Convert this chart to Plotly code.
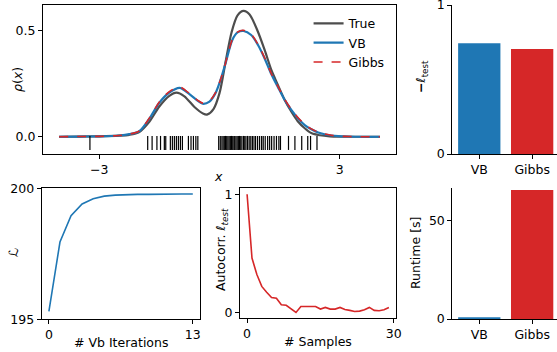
import plotly.graph_objects as go

# ---------------- data ----------------
true_x = [-4.0, -3.5, -3.0, -2.5, -2.25, -2.0, -1.75, -1.5, -1.25, -1.075, -0.875, -0.625,
          -0.4, -0.3, -0.15, 0.0, 0.15, 0.3, 0.45, 0.6, 0.75, 0.95, 1.125, 1.3, 1.45,
          1.625, 1.8, 1.95, 2.125, 2.3, 2.5, 2.75, 3.0, 3.5, 4.0]
true_y = [0.0, 0.001, 0.002, 0.005, 0.009, 0.022, 0.07, 0.142, 0.192, 0.207, 0.19, 0.14,
          0.108, 0.105, 0.13, 0.205, 0.35, 0.49, 0.57, 0.591, 0.574, 0.497, 0.408, 0.31, 0.246,
          0.173, 0.115, 0.073, 0.04, 0.016, 0.007, 0.002, 0.0005, 0.0, 0.0]

vb_x = [-4.0, -3.5, -3.0, -2.5, -2.25, -2.0, -1.75, -1.5, -1.25, -0.99, -0.75, -0.55,
        -0.42, -0.25, -0.1, 0.025, 0.15, 0.32, 0.45, 0.6, 0.79, 0.96, 1.125, 1.29, 1.46,
        1.625, 1.79, 1.96, 2.125, 2.29, 2.46, 2.62, 2.79, 2.96, 3.25, 3.5, 4.0]
vb_y = [0.0, 0.001, 0.002, 0.006, 0.012, 0.026, 0.085, 0.16, 0.208, 0.23, 0.2, 0.17,
        0.155, 0.165, 0.205, 0.267, 0.345, 0.455, 0.49, 0.497, 0.478, 0.431, 0.368, 0.295, 0.232,
        0.173, 0.126, 0.086, 0.055, 0.035, 0.02, 0.012, 0.006, 0.003, 0.001, 0.0, 0.0]
gibbs_y = [0.0, 0.001, 0.002, 0.006, 0.012, 0.027, 0.087, 0.163, 0.212, 0.234, 0.203, 0.172,
           0.158, 0.168, 0.207, 0.268, 0.346, 0.457, 0.492, 0.5, 0.481, 0.434, 0.371, 0.298, 0.235,
           0.176, 0.129, 0.089, 0.058, 0.037, 0.022, 0.013, 0.007, 0.003, 0.001, 0.0, 0.0]

samples = [-3.23, -1.79, -1.68, -1.56, -1.47, -1.375, -1.34,
           -1.225, -1.175, -1.125, -1.075, -1.025, -0.975, -0.925,
           -0.775, -0.71, -0.65, -0.59, -0.54,
           -0.02, 0.02, 0.06, 0.09, 0.12, 0.15, 0.18, 0.21, 0.24, 0.27, 0.3, 0.33, 0.36,
           0.38, 0.41, 0.44, 0.47, 0.5, 0.53, 0.56, 0.6, 0.63, 0.66, 0.7, 0.74, 0.78,
           0.82, 0.86, 0.9, 0.95, 1.0, 1.05, 1.09, 1.14, 1.2, 1.25, 1.3, 1.36, 1.42, 1.48, 1.52,
           1.72, 1.88, 2.05, 2.2, 2.27, 2.43]

methods = ["VB", "Gibbs"]
neg_ll_test = [0.743, 0.705]
runtime = [0.4, 65.6]

vb_iter = list(range(14))
elbo = [195.3, 197.95, 198.95, 199.4, 199.6, 199.7, 199.74, 199.76, 199.77, 199.77,
        199.78, 199.78, 199.78, 199.78]

lags = list(range(30))
autocorr = [1.0, 0.46, 0.32, 0.22, 0.17, 0.126, 0.12, 0.065, 0.06, 0.03,
            0.0, 0.05, 0.05, 0.053, 0.05, 0.028, 0.042, 0.028, 0.028, 0.042,
            0.025, 0.017, 0.008, 0.011, 0.022, 0.042, 0.017, 0.014, 0.022, 0.042]

BLUE = "#1f77b4"
RED = "#d62728"
GRAY = "#4d4d4d"
FONT = "DejaVu Sans"
FS = 12.5

W, H = 557, 352
def dx(a, b):
    return [a / W, min(b / W, 1.0)]
def dy(top, bottom):
    return [1 - bottom / H, 1 - top / H]

fig = go.Figure()

# top-left density
fig.add_trace(go.Scatter(x=true_x, y=true_y, mode="lines", name="True",
                         line=dict(color=GRAY, width=2.2, shape="spline", smoothing=0.8),
                         xaxis="x", yaxis="y"))
fig.add_trace(go.Scatter(x=vb_x, y=vb_y, mode="lines", name="VB",
                         line=dict(color=BLUE, width=2.2, shape="spline", smoothing=0.8),
                         xaxis="x", yaxis="y"))
fig.add_trace(go.Scatter(x=vb_x, y=gibbs_y, mode="lines", name="Gibbs",
                         line=dict(color=RED, width=1.6, dash="dash", shape="spline", smoothing=0.8),
                         xaxis="x", yaxis="y"))
fig.add_trace(go.Scatter(x=samples, y=[-0.029] * len(samples), mode="markers",
                         marker=dict(symbol="line-ns", size=10, color="black",
                                     line=dict(width=1.2, color="black")),
                         showlegend=False, hoverinfo="skip", xaxis="x", yaxis="y"))

# top-right bars
fig.add_trace(go.Bar(x=methods, y=neg_ll_test, marker_color=[BLUE, RED], width=0.8,
                     showlegend=False, xaxis="x2", yaxis="y2"))
# bottom-left ELBO
fig.add_trace(go.Scatter(x=vb_iter, y=elbo, mode="lines", line=dict(color=BLUE, width=1.6),
                         showlegend=False, xaxis="x3", yaxis="y3"))
# bottom-middle autocorr
fig.add_trace(go.Scatter(x=lags, y=autocorr, mode="lines", line=dict(color=RED, width=1.6),
                         showlegend=False, xaxis="x4", yaxis="y4"))
# bottom-right runtime
fig.add_trace(go.Bar(x=methods, y=runtime, marker_color=[BLUE, RED], width=0.8,
                     showlegend=False, xaxis="x5", yaxis="y5"))

base = dict(showline=True, linecolor="black", linewidth=1, ticks="outside", ticklen=4,
            tickwidth=1, tickcolor="black", showgrid=False, zeroline=False, automargin=False,
            ticklabeloverflow="allow",
            tickfont=dict(family=FONT, size=FS, color="black"), fixedrange=True)

fig.update_layout(
    template="none",
    width=W, height=H, margin=dict(l=0, r=0, t=0, b=0, pad=0),
    paper_bgcolor="white", plot_bgcolor="white",
    font=dict(family=FONT, size=FS, color="black"),
    bargap=0.2,
    legend=dict(x=0.554, y=0.975, xanchor="left", yanchor="top", bgcolor="rgba(0,0,0,0)",
                font=dict(family=FONT, size=FS), tracegroupgap=0, itemwidth=30),
    xaxis=dict(base, domain=dx(43, 396), anchor="y", range=[-4.4, 4.4], mirror=True,
               tickvals=[-3, 3]),
    yaxis=dict(base, domain=dy(5, 154), anchor="x", range=[-0.081, 0.619], mirror=True,
               tickvals=[0, 0.5], ticktext=["0.0", "0.5"]),
    xaxis2=dict(base, domain=dx(452.3, 557), anchor="y2", range=[-0.51, 1.47]),
    yaxis2=dict(base, domain=dy(5, 154), anchor="x2", range=[0, 1], tickvals=[0, 1]),
    xaxis3=dict(base, domain=dx(41.7, 200), anchor="y3", range=[-0.65, 13.65], mirror=True,
                tickvals=[0, 13]),
    yaxis3=dict(base, domain=dy(188.3, 319.3), anchor="x3", range=[195, 200], mirror=True,
                tickvals=[195, 200]),
    xaxis4=dict(base, domain=dx(240, 396), anchor="y4", range=[-1.45, 30.45], mirror=True,
                tickvals=[0, 30]),
    yaxis4=dict(base, domain=dy(188.3, 318.3), anchor="x4", range=[-0.05, 1.05], mirror=True,
                tickvals=[0, 1]),
    xaxis5=dict(base, domain=dx(452.3, 557), anchor="y5", range=[-0.51, 1.47]),
    yaxis5=dict(base, domain=dy(188.3, 319), anchor="x5", range=[0, 66.5], tickvals=[0, 50]),
)

def label(text, x, y, angle=0):
    fig.add_annotation(text=text, x=x / W, y=1 - y / H, xref="paper", yref="paper",
                       showarrow=False, textangle=angle, xanchor="center", yanchor="middle",
                       font=dict(family=FONT, size=FS, color="black"))

label("<i>ρ</i>(<i>x</i>)", 17, 80, -90)
label("<i>x</i>", 218, 176)
label("<b>−</b><i>ℓ</i><sub>test</sub>", 421, 77, -90)
label("ℒ", 13, 253, -90)
label("# Vb Iterations", 121, 342)
label("Autocorr. <i>ℓ<sub>test</sub></i>", 221, 250, -90)
label("# Samples", 318, 341)
label("Runtime [s]", 415, 253, -90)

fig.write_html("out.html", config={"displayModeBar": False},
               post_script="document.body.style.margin='0';document.body.style.overflow='hidden';")
